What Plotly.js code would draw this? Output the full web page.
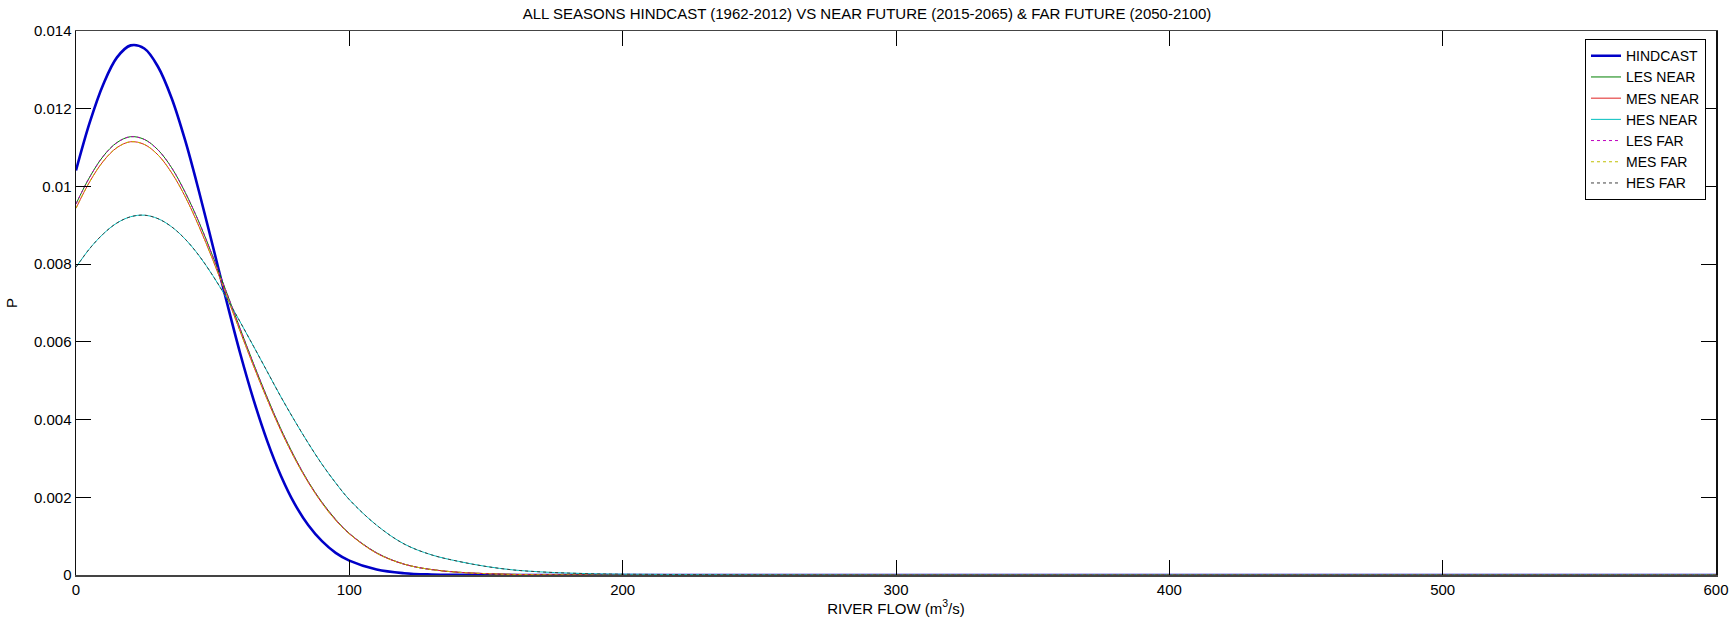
<!DOCTYPE html>
<html>
<head>
<meta charset="utf-8">
<script src="https://cdn.plot.ly/plotly-3.0.1.min.js"></script>
<style>
  html, body { margin: 0; padding: 0; background: #fff; }
  #chart { width: 1734px; height: 619px; }
</style>
</head>
<body>
<div id="chart"></div>
<script>
// River flow grid (m^3/s) shared by all probability curves
const flow = [0, 5, 10, 15, 20, 25, 30, 35, 40, 45, 50, 55, 60, 65, 70, 75, 80, 85, 90, 95, 100,
  110, 120, 130, 140, 150, 160, 170, 180, 190, 200,
  250, 300, 350, 400, 450, 500, 550, 600];

// Hindcast 1962-2012
const hindcast = [0.01041, 0.01164, 0.01263, 0.01332, 0.01363, 0.01355, 0.01308, 0.01227, 0.01117, 0.00987,
  0.00848, 0.00707, 0.00572, 0.00450, 0.00344, 0.00255, 0.00183, 0.00128, 0.00087, 0.00057, 0.00037,
  0.00014, 0.000046, 0.000014, 0.000004, 0.000001, 0, 0, 0, 0, 0,
  0, 0, 0, 0, 0, 0, 0, 0];

// Near future 2015-2065
const lesNear = [0.00955, 0.01024, 0.01078, 0.01113, 0.01128, 0.01121, 0.01094, 0.01048, 0.00984, 0.00908,
  0.00821, 0.00729, 0.00635, 0.00543, 0.00456, 0.00375, 0.00303, 0.00240, 0.00187, 0.00143, 0.00107,
  0.00057, 0.00028, 0.00014, 0.00007, 0.000035, 0.000015, 0.000006, 0.000002, 0, 0,
  0, 0, 0, 0, 0, 0, 0, 0];
const mesNear = [0.00944, 0.01012, 0.01065, 0.01100, 0.01115, 0.01108, 0.01081, 0.01035, 0.00973, 0.00897,
  0.00812, 0.00721, 0.00628, 0.00537, 0.00451, 0.00371, 0.00300, 0.00238, 0.00185, 0.00141, 0.00106,
  0.00056, 0.00028, 0.00014, 0.00007, 0.000035, 0.000015, 0.000006, 0.000002, 0, 0,
  0, 0, 0, 0, 0, 0, 0, 0];
const hesNear = [0.00792, 0.00840, 0.00878, 0.00906, 0.00922, 0.00926, 0.00917, 0.00896, 0.00864, 0.00822,
  0.00771, 0.00714, 0.00652, 0.00588, 0.00523, 0.00458, 0.00397, 0.00339, 0.00285, 0.00237, 0.00194,
  0.00128, 0.00080, 0.00052, 0.00035, 0.00022, 0.00013, 0.00008, 0.00005, 0.00003, 0.00002,
  0.000005, 0, 0, 0, 0, 0, 0, 0];

// Far future 2050-2100
const lesFar = [0.00955, 0.01024, 0.01078, 0.01113, 0.01128, 0.01121, 0.01094, 0.01048, 0.00984, 0.00908,
  0.00821, 0.00729, 0.00635, 0.00543, 0.00456, 0.00375, 0.00303, 0.00240, 0.00187, 0.00143, 0.00107,
  0.00057, 0.00028, 0.00014, 0.00007, 0.000035, 0.000015, 0.000006, 0.000002, 0, 0,
  0, 0, 0, 0, 0, 0, 0, 0];
const mesFar = [0.00944, 0.01012, 0.01065, 0.01100, 0.01115, 0.01108, 0.01081, 0.01035, 0.00973, 0.00897,
  0.00812, 0.00721, 0.00628, 0.00537, 0.00451, 0.00371, 0.00300, 0.00238, 0.00185, 0.00141, 0.00106,
  0.00056, 0.00028, 0.00014, 0.00007, 0.000035, 0.000015, 0.000006, 0.000002, 0, 0,
  0, 0, 0, 0, 0, 0, 0, 0];
const hesFar = [0.00792, 0.00840, 0.00878, 0.00906, 0.00922, 0.00926, 0.00917, 0.00896, 0.00864, 0.00822,
  0.00771, 0.00714, 0.00652, 0.00588, 0.00523, 0.00458, 0.00397, 0.00339, 0.00285, 0.00237, 0.00194,
  0.00128, 0.00080, 0.00052, 0.00035, 0.00022, 0.00013, 0.00008, 0.00005, 0.00003, 0.00002,
  0.000005, 0, 0, 0, 0, 0, 0, 0];

const seriesNames = ['HINDCAST', 'LES NEAR', 'MES NEAR', 'HES NEAR', 'LES FAR', 'MES FAR', 'HES FAR'];
const seriesData = [hindcast, lesNear, mesNear, hesNear, lesFar, mesFar, hesFar];
const colors = ['#0000c8', '#007f00', '#e02020', '#00bfbf', '#bf00bf', '#bfbf00', '#404040'];
const widths = [2.6, 1, 1, 1, 1, 1, 1];
const dashes = ['solid', 'solid', 'solid', 'solid', 'dot', 'dot', 'dot'];

const NARROW = '"Liberation Sans Narrow", "Liberation Sans", Arial, sans-serif';

const traces = seriesNames.map((name, i) => ({
  type: 'scatter',
  mode: 'lines',
  name: name,
  x: flow,
  y: seriesData[i],
  line: { color: colors[i], width: widths[i], dash: dashes[i], shape: 'spline', smoothing: 1 }
}));

const layout = {
  width: 1734,
  height: 619,
  paper_bgcolor: '#ffffff',
  plot_bgcolor: '#ffffff',
  margin: { l: 76, r: 18, t: 31, b: 44 },
  showlegend: true,
  title: {
    text: 'ALL SEASONS HINDCAST (1962-2012) VS NEAR FUTURE (2015-2065) & FAR FUTURE (2050-2100)',
    font: { family: NARROW, size: 15, color: '#000' },
    x: 0.5, xanchor: 'center', y: 0.978, yanchor: 'middle'
  },
  xaxis: {
    range: [0, 600],
    tickmode: 'linear', tick0: 0, dtick: 100,
    ticks: 'inside', ticklen: 15, tickcolor: '#000', tickwidth: 1,
    showline: true, linecolor: '#444', linewidth: 1.5, mirror: 'ticks',
    showgrid: false, zeroline: false,
    tickfont: { family: NARROW, size: 15, color: '#000' },
    title: { text: 'RIVER FLOW (m<sup>3</sup>/s)', font: { family: NARROW, size: 15, color: '#000' }, standoff: 4 }
  },
  yaxis: {
    range: [0, 0.014],
    tickmode: 'linear', tick0: 0, dtick: 0.002,
    ticks: 'inside', ticklen: 15, tickcolor: '#000', tickwidth: 1,
    showline: true, linecolor: '#111', linewidth: 1.5, mirror: 'ticks',
    showgrid: false, zeroline: false,
    tickfont: { family: NARROW, size: 15, color: '#000' },
    title: { text: 'P', font: { family: NARROW, size: 15, color: '#000' }, standoff: 12 }
  },
  legend: {
    x: 0.9939, xanchor: 'right', y: 0.985, yanchor: 'top',
    bgcolor: '#ffffff', bordercolor: '#000', borderwidth: 1,
    font: { family: NARROW, size: 14, color: '#000' },
    tracegroupgap: 0, itemwidth: 30
  }
};

Plotly.newPlot('chart', traces, layout, { displayModeBar: false, staticPlot: true });
</script>
</body>
</html>
